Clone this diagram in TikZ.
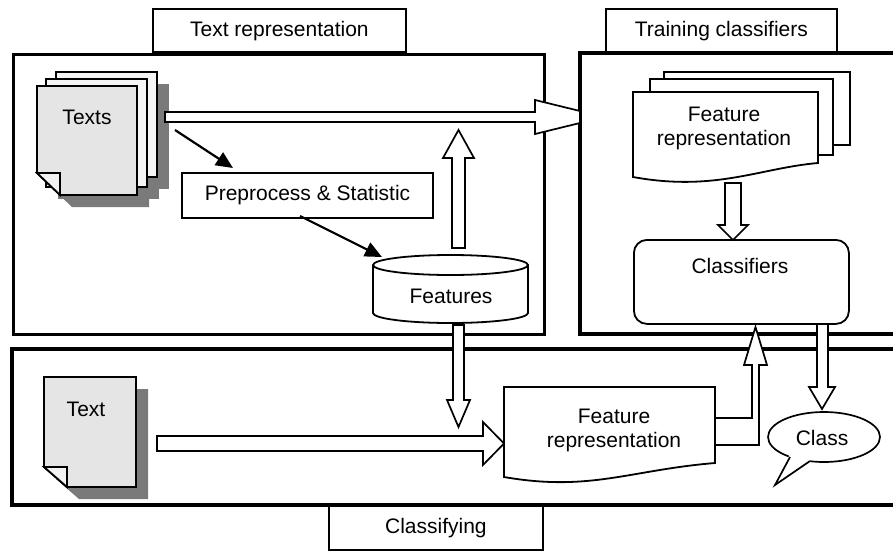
\documentclass[tikz,border=0pt]{standalone}
\usepackage{fontspec}
\setmainfont{Liberation Sans}
\usetikzlibrary{arrows.meta,calc}
\begin{document}
\begin{tikzpicture}[x=1pt,y=-1pt,
 panel/.style={draw,line width=3.2pt,fill=white},
 tab/.style={draw,line width=1.8pt,fill=white},
 box/.style={draw,line width=1.8pt,fill=white},
 hollow/.style={draw,line width=1.7pt,fill=white,line join=miter},
 blk/.style={line width=2.2pt,-{Triangle[length=17pt,width=15pt]}},
 lbl/.style={font=\fontsize{21}{24}\selectfont, inner sep=0pt, align=center},
 shadowfill/.style={fill=black!52},
 page/.style={draw,line width=1.8pt,fill=black!10},
 backpage/.style={draw,line width=1.8pt,fill=black!4},
 docpage/.style={draw,line width=1.8pt,fill=white},
]
\useasboundingbox[fill=white] (0,0) rectangle (893,552);

% ---------- tabs ----------
\node[tab, lbl, minimum width=253, minimum height=43, anchor=south west] (tabtr) at (152,53) {Text representation};
\node[tab, lbl, minimum width=231, minimum height=43, anchor=south west] (tabtc) at (605,53) {Training classifiers};
\node[tab, lbl, minimum width=214, minimum height=44, anchor=north west] (tabcl) at (328,505) {Classifying};

% ---------- panels ----------
\node[panel, minimum width=531, minimum height=280, anchor=north west] (ptr) at (12,53) {};
\fill[white] (580,53) rectangle (893,334);
\draw[line width=3.2pt] (893,53) -- (580,53) -- (580,334) -- (893,334);
\fill[white] (12,349) rectangle (893,505);
\draw[line width=3.2pt] (893,349) -- (12,349) -- (12,505) -- (893,505);

% ---------- Texts stack ----------
\fill[shadowfill] (68,84) rectangle (169,189);
\fill[shadowfill] (58,91) rectangle (159,199);
\fill[shadowfill] (49,98) -- (149,98) -- (149,207) -- (72,207) -- (49,185) -- cycle;
\draw[backpage] (56,72) rectangle (157,177);
\draw[backpage] (46,79) rectangle (147,187);
\draw[page] (37,86) -- (137,86) -- (137,195) -- (60,195) -- (37,173) -- cycle;
\draw[page, fill=black!5] (37,173) -- (60,173) -- (60,195) -- cycle;
\node[lbl] (texts) at (87,117) {Texts};

% ---------- Preprocess ----------
\node[box, lbl, minimum width=251, minimum height=45] (prep) at (307.5,195.5) {Preprocess \& Statistic};

% ---------- Features cylinder ----------
\draw[line width=1.8pt, fill=white] (373,265) -- (373,313) arc[start angle=180,end angle=0,x radius=77.5,y radius=10] -- (528,265);
\draw[line width=1.8pt, fill=white] (450.5,265) ellipse [x radius=77.5, y radius=10];
\node[lbl] (feat) at (451,296) {Features};

% ---------- black arrows ----------
\coordinate (tsrc) at (175,130);
\coordinate (tdst) at (233,168);
\draw[blk] (tsrc) -- (tdst);
\coordinate (psrc) at (300,216);
\coordinate (pdst) at (382,257);
\draw[blk] (psrc) -- (pdst);

% ---------- Training: feature representation stack ----------
\draw[docpage] (664,72) rectangle (850,145);
\draw[docpage] (650,79) rectangle (833,155);
\draw[docpage] (633,177) -- (633,92) -- (818,92) -- (818,163) .. controls (760,168) and (715,192) .. (633,177) -- cycle;
\node[lbl] (frt) at (724,128) {Feature\\representation};

% ---------- Classifiers ----------
\node[box, lbl, rounded corners=13pt, minimum width=215, minimum height=84, anchor=north west] (clsf) at (633,239) {};
\node[lbl] (clsft) at (740,266) {Classifiers};

% ---------- Bottom: Text page ----------
\fill[shadowfill] (56,389) -- (148,389) -- (148,499) -- (79,499) -- (56,479) -- cycle;
\draw[page] (44,377) -- (136,377) -- (136,487) -- (67,487) -- (44,467) -- cycle;
\draw[page, fill=black!5] (44,467) -- (67,467) -- (67,487) -- cycle;
\node[lbl] (text) at (86,409) {Text};

% ---------- Bottom: Feature representation ----------
\draw[docpage] (504,477) -- (504,387) -- (715,387) -- (715,463) .. controls (630,470) and (590,492) .. (504,477) -- cycle;
\node[lbl] (frb) at (614,430) {Feature\\representation};

% ---------- Class callout ----------
\draw[line width=1.7pt, fill=white] (824,437) ellipse [x radius=56, y radius=25];
\fill[white] (790,454) -- (775,485) -- (810,463) -- (810,458) -- cycle;
\draw[line width=1.7pt] (790,457) -- (775,485) -- (810,461);
\node[lbl] (cls) at (822,438) {Class};

% ---------- hollow block arrows ----------
% Texts -> Training classifiers
\coordinate (a1) at (165,117);
\draw[hollow] (a1) ++(0,-5) -- (535,112) -- (535,100) -- (580,111) -- (580,123) -- (535,134) -- (535,122) -- (165,122) -- cycle;
% Features -> up
\coordinate (a2) at (458.5,248);
\draw[hollow] (a2) ++(-6.5,0) -- (452,158) -- (443,158) -- (458.5,130) -- (474,158) -- (465,158) -- (465,248) -- cycle;
% Features -> down to classifying
\coordinate (a3) at (458.5,325);
\draw[hollow] (a3) ++(-5.5,0) -- (453,400) -- (447,400) -- (458.5,427) -- (470,400) -- (464,400) -- (464,325) -- cycle;
% Text -> Feature representation
\coordinate (a4) at (157,443.5);
\draw[hollow] (a4) ++(0,-7.5) -- (483,436) -- (483,422) -- (504,443.5) -- (483,465) -- (483,451) -- (157,451) -- cycle;
% Feature representation -> Classifiers (training)
\coordinate (a5) at (733,183);
\draw[hollow] (a5) ++(-8,0) -- (725,225) -- (718,225) -- (733,240) -- (748,225) -- (741,225) -- (741,183) -- cycle;
% Feature representation (bottom) -> Classifiers (L arrow)
\coordinate (a6) at (715,431.5);
\draw[hollow] (a6) ++(0,-13.5) -- (752,418) -- (752,365) -- (744,365) -- (755.5,327) -- (767,365) -- (759,365) -- (759,445) -- (715,445) -- cycle;
% Classifiers -> Class
\coordinate (a7) at (822.5,324);
\draw[hollow] (a7) ++(-5.5,0) -- (817,387) -- (809,387) -- (822,409) -- (835,387) -- (828,387) -- (828,324) -- cycle;
\end{tikzpicture}
\end{document}
